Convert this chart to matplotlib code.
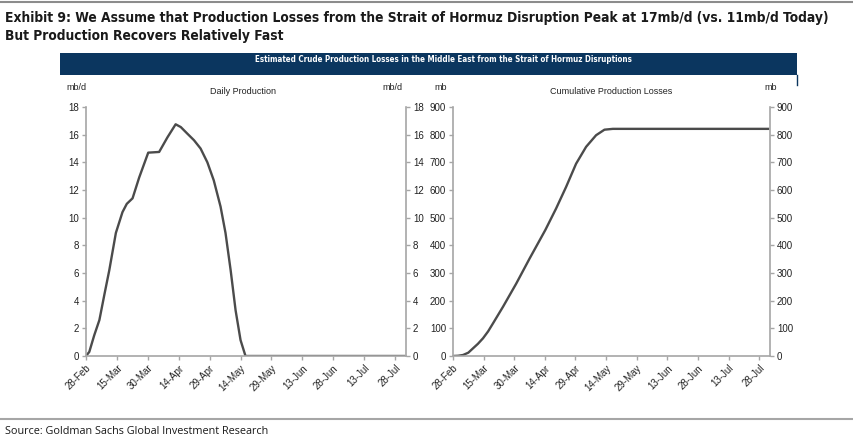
import numpy as np
import pandas as pd
import matplotlib
matplotlib.use("Agg")
import matplotlib.pyplot as plt
import matplotlib.dates as mdates
from matplotlib.lines import Line2D
from matplotlib.patches import Rectangle

# Data (days after 28-Feb)
start = pd.Timestamp("2026-02-28")
daily_days = [0, 1.6, 4, 6.5, 9, 11.3, 14.5, 17.7, 19.8, 22.6, 25.8, 30.2, 35.5, 39.5, 43.5,
              46, 49, 52.4, 55.6, 58.9, 62, 65.3, 67.7, 70.2, 72.6, 75, 77.4, 100, 130, 155]
daily_prod = [0, 0.3, 1.5, 2.6, 4.5, 6.2, 8.9, 10.4, 11.0, 11.4, 12.9, 14.7, 14.75, 15.8, 16.75,
              16.55, 16.1, 15.6, 15.0, 14.0, 12.7, 10.8, 8.9, 6.2, 3.3, 1.15, 0, 0, 0, 0]
cum_days = [0, 2.5, 4.9, 7.5, 9.8, 12.2, 14.7, 17.2, 19.6, 24.5, 31, 37.5, 45.2, 50.5, 55.4,
            60.3, 65.2, 70.1, 74.2, 78.3, 100, 130, 155]
cum_loss = [0, 0.8, 3.6, 12, 27.7, 44, 64, 89, 118, 178, 262, 352, 455, 533, 611,
            695, 756, 798, 818, 821, 821, 821, 821]
tick_days = [0, 15, 30, 45, 60, 75, 90, 105, 120, 135, 150]

daily_dates = [start + pd.Timedelta(days=d) for d in daily_days]
cum_dates = [start + pd.Timedelta(days=d) for d in cum_days]
tick_dates = [start + pd.Timedelta(days=d) for d in tick_days]
x_end = start + pd.Timedelta(days=155.3)

W, H = 854, 443
fig = plt.figure(figsize=(W / 100, H / 100), dpi=100)
plt.rcParams['font.family'] = ['Liberation Sans', 'DejaVu Sans']
renderer = fig.canvas.get_renderer()

navy = "#0b365f"
line_c = "#4b4b4b"
spine_c = "#a6a6a6"
txt_c = "#222222"


def fx(px):
    return px / W


def fy(py):
    return 1 - py / H


def fit(t, width_px):
    # shrink/grow a text so it spans the width seen in the reference
    w = t.get_window_extent(renderer).width
    t.set_fontsize(t.get_fontsize() * width_px / w)


cond = dict(family=['DejaVu Sans'], fontstretch='condensed', weight='bold')

# header / footer
fig.add_artist(Line2D([0, 1], [fy(2), fy(2)], color="#8c8c8c", lw=1.5))
t1 = fig.text(fx(5), fy(18), "Exhibit 9: We Assume that Production Losses from the Strait of Hormuz Disruption Peak at 17mb/d (vs. 11mb/d Today)",
              fontsize=11, color="#1a1a1a", va='center', **cond)
fit(t1, 827)
t2 = fig.text(fx(5), fy(36), "But Production Recovers Relatively Fast",
              fontsize=t1.get_fontsize(), color="#1a1a1a", va='center', **cond)
fig.add_artist(Rectangle((fx(60), fy(75)), fx(797) - fx(60), fy(53) - fy(75), color=navy, lw=0))
fig.add_artist(Line2D([fx(797), fx(797)], [fy(75), fy(85)], color=navy, lw=1))
tb = fig.text(fx(443), fy(59.5), "Estimated Crude Production Losses in the Middle East from the Strait of Hormuz Disruptions",
              fontsize=6.5, color="white", ha='center', va='center', **cond)
fit(tb, 375)
fig.add_artist(Line2D([0, fx(852)], [fy(419), fy(419)], color="#a6a6a6", lw=1.5))
ts = fig.text(fx(5), fy(431), "Source: Goldman Sachs Global Investment Research",
              family=['Open Sans', 'DejaVu Sans'], fontsize=7.5, color="#1a1a1a", va='center')
fit(ts, 265)


def style(ax, ymax, step):
    ax.set_xlim(start, x_end)
    ax.set_ylim(0, ymax)
    ax.set_yticks(np.arange(0, ymax + 1, step))
    ax.set_xticks(tick_dates)
    ax.xaxis.set_major_formatter(mdates.DateFormatter('%d-%b'))
    ax.spines['top'].set_visible(False)
    for s in ['left', 'right', 'bottom']:
        ax.spines[s].set_color(spine_c)
        ax.spines[s].set_linewidth(1.2)
    ax.tick_params(axis='both', direction='out', length=3, width=1, color=spine_c,
                   labelsize=7, labelcolor=txt_c, pad=2)
    ax.tick_params(axis='y', right=True, labelright=True)
    for lab in ax.get_xticklabels():
        lab.set_rotation(45)
        lab.set_ha('right')
        lab.set_rotation_mode('anchor')


ax1 = fig.add_axes([fx(86), fy(356), fx(406) - fx(86), fy(107) - fy(356)])
ax1.plot(daily_dates, daily_prod, color=line_c, lw=1.7, solid_capstyle='butt')
style(ax1, 18, 2)

ax2 = fig.add_axes([fx(453), fy(356), fx(770) - fx(453), fy(107) - fy(356)])
ax2.plot(cum_dates, cum_loss, color=line_c, lw=1.7, solid_capstyle='butt')
style(ax2, 900, 100)

fig.text(fx(87), fy(87), "mb/d", fontsize=6.5, color=txt_c, ha='right', va='center')
fig.text(fx(403), fy(87), "mb/d", fontsize=6.5, color=txt_c, ha='right', va='center')
fig.text(fx(243), fy(91), "Daily Production", fontsize=6.5, color=txt_c, ha='center', va='center')
fig.text(fx(447), fy(87), "mb", fontsize=6.5, color=txt_c, ha='right', va='center')
fig.text(fx(777), fy(87), "mb", fontsize=6.5, color=txt_c, ha='right', va='center')
fig.text(fx(611), fy(91), "Cumulative Production Losses", fontsize=6.5, color=txt_c, ha='center', va='center')

fig.savefig("out.png", dpi=100)
